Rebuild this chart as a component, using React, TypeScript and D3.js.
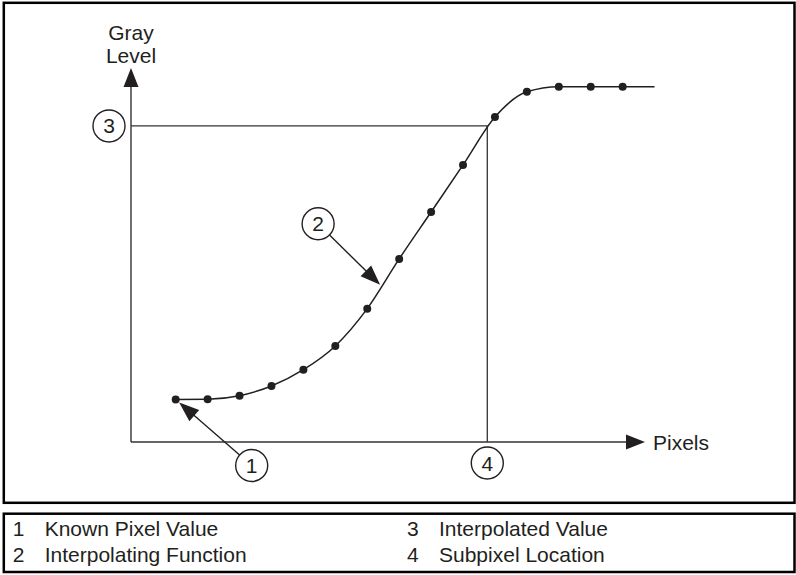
import { useEffect, useRef } from 'react'
import * as d3 from 'd3'

// known pixel samples: pixel index -> gray level
const PIXELS = [0, 1, 2, 3, 4, 5, 6, 7, 8, 9, 10, 11, 12, 13, 14]
const GRAY = [29, 29.2, 31.6, 38.2, 49.3, 65.5, 90.9, 124.8, 156.8, 188.9, 221.6, 238.8, 242.3, 242.3, 242.3]
const TAIL_PIXEL = 15 // the curve runs on flat past the last sample

const SUBPIXEL = 9.76
const INTERP_VALUE = 215.5
const CALLOUT2_PIXEL = 6.45

const AXIS_X = ['Pixels']
const AXIS_Y = ['Gray', 'Level']

const LEGEND_NUMS = ['1', '2', '3', '4']
const LEGEND_LABELS = ['Known Pixel Value', 'Interpolating Function', 'Interpolated Value', 'Subpixel Location']

const W = 796
const H = 575
const X_DOMAIN: [number, number] = [-1.4, 14.7]
const Y_DOMAIN: [number, number] = [0, 255]
const PLOT = { left: 131, right: 645, top: 68, bottom: 442 }

const INK = '#231f20'
const LINE = '#333333'
const FONT = "'Liberation Sans', Arial, Helvetica, sans-serif"
const FS = 21
const CIRCLE_R = 16

type Pt = [number, number]

function arrowHead(tip: Pt, from: Pt, len = 19, half = 7.5): string {
  const a = Math.atan2(tip[1] - from[1], tip[0] - from[0])
  const bx = tip[0] - len * Math.cos(a)
  const by = tip[1] - len * Math.sin(a)
  const nx = -Math.sin(a) * half
  const ny = Math.cos(a) * half
  return `M${tip[0]},${tip[1]}L${bx + nx},${by + ny}L${bx - nx},${by - ny}Z`
}

export default function App() {
  const svgRef = useRef<SVGSVGElement>(null)

  useEffect(() => {
    document.body.style.margin = '0'
    const svg = svgRef.current
    if (!svg) return
    const sel = d3.select(svg)
    sel.selectAll('*').remove()

    const x = d3.scaleLinear().domain(X_DOMAIN).range([PLOT.left, PLOT.right])
    const y = d3.scaleLinear().domain(Y_DOMAIN).range([PLOT.bottom, PLOT.top])

    const samples = PIXELS.map((p, i) => ({ px: p, v: GRAY[i] }))
    const curveData = [...samples, { px: TAIL_PIXEL, v: GRAY[GRAY.length - 1] }]

    // ── frames ──────────────────────────────────────────────────────
    sel.append('rect')
      .attr('x', 3.8).attr('y', 2.8).attr('width', 790.7).attr('height', 500)
      .attr('fill', 'none').attr('stroke', '#000').attr('stroke-width', 2.5)
    sel.append('rect')
      .attr('x', 3.8).attr('y', 513.7).attr('width', 790.7).attr('height', 58.3)
      .attr('fill', 'none').attr('stroke', '#000').attr('stroke-width', 2.5)

    const g = sel.append('g')
    const x0 = x(X_DOMAIN[0])
    const y0 = y(0)

    // ── axes with arrowheads ────────────────────────────────────────
    g.append('line')
      .attr('x1', x0).attr('x2', x0).attr('y1', y0).attr('y2', y(Y_DOMAIN[1]) + 10)
      .attr('stroke', LINE).attr('stroke-width', 1.4)
    g.append('path').attr('d', arrowHead([x0, y(Y_DOMAIN[1])], [x0, y0])).attr('fill', INK)
    g.append('line')
      .attr('x1', x0).attr('x2', x(X_DOMAIN[1]) - 10).attr('y1', y0).attr('y2', y0)
      .attr('stroke', LINE).attr('stroke-width', 1.4)
    g.append('path').attr('d', arrowHead([x(X_DOMAIN[1]), y0], [x0, y0])).attr('fill', INK)

    AXIS_Y.forEach((t, i) => {
      g.append('text')
        .attr('x', x0).attr('y', 39.5 + i * 23.3)
        .attr('text-anchor', 'middle')
        .attr('font-family', FONT).attr('font-size', FS).attr('fill', INK)
        .text(t)
    })
    g.append('text')
      .attr('x', x(X_DOMAIN[1]) + 8).attr('y', y0).attr('dy', '0.36em')
      .attr('font-family', FONT).attr('font-size', FS).attr('fill', INK)
      .text(AXIS_X[0])

    // ── subpixel guide lines ────────────────────────────────────────
    g.append('path')
      .attr('d', `M${x0},${y(INTERP_VALUE)}H${x(SUBPIXEL)}V${y0}`)
      .attr('fill', 'none').attr('stroke', LINE).attr('stroke-width', 1.3)

    // ── interpolating function + samples ────────────────────────────
    const line = d3.line<{ px: number; v: number }>()
      .x((d) => x(d.px))
      .y((d) => y(d.v))
      .curve(d3.curveMonotoneX)

    g.append('path')
      .datum(curveData)
      .attr('d', line)
      .attr('fill', 'none').attr('stroke', INK).attr('stroke-width', 1.5)

    g.selectAll('.dot')
      .data(samples)
      .join('circle')
      .attr('class', 'dot')
      .attr('cx', (d) => x(d.px)).attr('cy', (d) => y(d.v))
      .attr('r', 4).attr('fill', INK)

    // ── numbered callouts ───────────────────────────────────────────
    const callout = (num: string, c: Pt) => {
      g.append('circle')
        .attr('cx', c[0]).attr('cy', c[1]).attr('r', CIRCLE_R)
        .attr('fill', '#fff').attr('stroke', INK).attr('stroke-width', 1.4)
      g.append('text')
        .attr('x', c[0]).attr('y', c[1]).attr('dy', '0.36em')
        .attr('text-anchor', 'middle')
        .attr('font-family', FONT).attr('font-size', FS).attr('fill', INK)
        .text(num)
    }
    const pointer = (c: Pt, tip: Pt) => {
      const a = Math.atan2(tip[1] - c[1], tip[0] - c[0])
      const start: Pt = [c[0] + CIRCLE_R * Math.cos(a), c[1] + CIRCLE_R * Math.sin(a)]
      g.append('line')
        .attr('x1', start[0]).attr('y1', start[1])
        .attr('x2', tip[0] - 10 * Math.cos(a)).attr('y2', tip[1] - 10 * Math.sin(a))
        .attr('stroke', INK).attr('stroke-width', 1.4)
      g.append('path').attr('d', arrowHead(tip, c, 20, 7.5)).attr('fill', INK)
    }

    // 1: known pixel value (first sample)
    const k: Pt = [x(samples[0].px), y(samples[0].v)]
    const c1: Pt = [k[0] + 76, k[1] + 66]
    pointer(c1, [k[0] + 3.5, k[1] + 3])
    callout(LEGEND_NUMS[0], c1)

    // 2: interpolating function
    const j = Math.floor(CALLOUT2_PIXEL)
    const t = CALLOUT2_PIXEL - j
    const onCurve: Pt = [x(CALLOUT2_PIXEL), y(GRAY[j] + (GRAY[j + 1] - GRAY[j]) * t)]
    const tip2: Pt = [onCurve[0] - 1.5, onCurve[1] - 1.5]
    const c2: Pt = [tip2[0] - 62, tip2[1] - 61]
    pointer(c2, tip2)
    callout(LEGEND_NUMS[1], c2)

    // 3: interpolated value, 4: subpixel location
    callout(LEGEND_NUMS[2], [x0 - 22, y(INTERP_VALUE)])
    callout(LEGEND_NUMS[3], [x(SUBPIXEL), y0 + 21])

    // ── legend ──────────────────────────────────────────────────────
    const legend = sel.append('g')
    LEGEND_LABELS.forEach((label, i) => {
      const col = Math.floor(i / 2)
      const row = i % 2
      const lx = col === 0 ? 12.7 : 407
      const ly = 535.5 + row * 26.5
      legend.append('text')
        .attr('x', lx).attr('y', ly)
        .attr('font-family', FONT).attr('font-size', FS).attr('fill', INK)
        .text(LEGEND_NUMS[i])
      legend.append('text')
        .attr('x', lx + 32).attr('y', ly)
        .attr('font-family', FONT).attr('font-size', FS).attr('fill', INK)
        .text(label)
    })
  }, [])

  return <svg ref={svgRef} width={W} height={H} style={{ display: 'block', background: '#fff' }} />
}
